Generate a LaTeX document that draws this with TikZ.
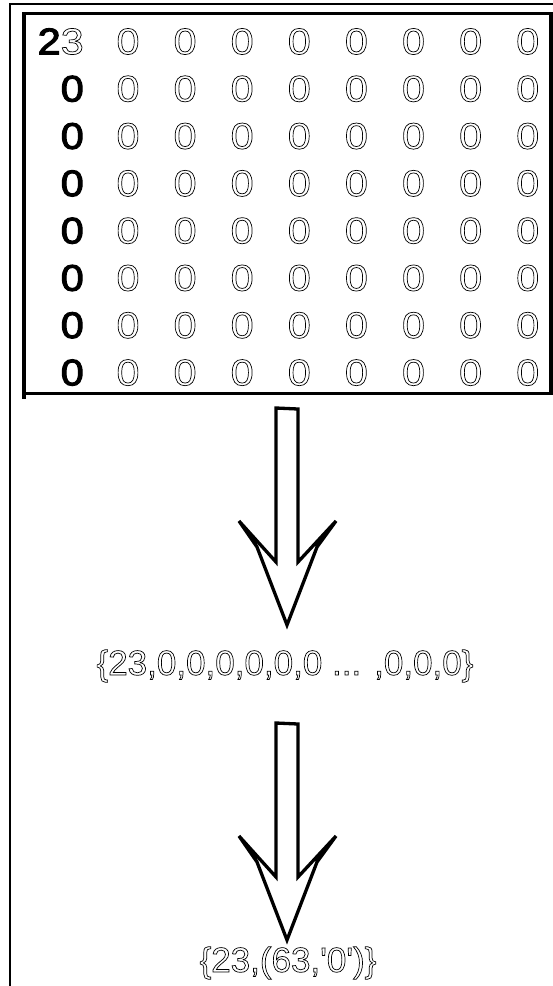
\documentclass[tikz,border=0pt]{standalone}
\usepackage{fontspec}
\setmainfont{Liberation Sans}
\newfontfamily\gridfont[FakeStretch=1.12]{Liberation Sans}
\newfontfamily\seqfont{Liberation Sans}
% outlined glyphs (text render mode 1) and heavy filled glyphs (mode 2)
\newcommand\hollowtxt[1]{{\special{pdf:literal direct 1 Tr 0.7 w}#1\special{pdf:literal direct 0 Tr}}}
\newcommand\heavytxt[1]{{\special{pdf:literal direct 2 Tr 1.1 w}#1\special{pdf:literal direct 0 Tr}}}
\tikzset{
  cell/.style={inner sep=0pt, font=\gridfont\fontsize{37}{40}\selectfont},
  seqtext/.style={inner sep=0pt, anchor=base, font=\seqfont\fontsize{35}{38}\selectfont},
  frameline/.style={line width=2pt},
  boxline/.style={line width=3.6pt},
  arrowline/.style={line width=3.3pt, line join=miter, miter limit=10},
  blockarrow/.pic={
    \draw[arrowline] (-11,0) -- (-11,154) -- (-48,113) -- (-30,139) -- (0,217)
      -- (30,139) -- (49,113) -- (11,154) -- (11,1) -- cycle;
  }
}
\begin{document}
\begin{tikzpicture}[x=1pt,y=-1pt]
\useasboundingbox (0,0) rectangle (553,986);

% outer frame (top and left)
\draw[frameline] (9,4) -- (553,4);
\draw[frameline] (10,3) -- (10,986);

% matrix box
\draw[line width=3pt] (22,13.5) -- (553,13.5);
\draw[boxline] (24,12) -- (24,399);
\draw[boxline] (551.2,12) -- (551.2,395);
\draw[boxline] (22,393.5) -- (553,393.5);

% first column
\node[cell, anchor=east] (g1) at (84,41.5) {\heavytxt{2}\hollowtxt{3}};
\foreach \r in {2,...,8} {
  \node[cell, anchor=east] (g\r) at (84,{41.5+47.3*(\r-1)}) {\heavytxt{0}};
}
% remaining cells
\foreach \r in {1,...,8} {
  \foreach \c in {2,...,9} {
    \node[cell] (g\r-\c) at ({128+57.1*(\c-2)},{41.5+47.3*(\r-1)}) {\hollowtxt{0}};
  }
}

% flattening step
\pic (a1) at (287,408) {blockarrow};
\node[seqtext] (flat) at (285,675) {\hollowtxt{\{23,0,0,0,0,0,0 ... ,0,0,0\}}};

% run-length step
\pic (a2) at (287,723) {blockarrow};
\node[seqtext] (rle) at (288,972) {\hollowtxt{\{23,(63,'0')\}}};
\end{tikzpicture}
\end{document}
